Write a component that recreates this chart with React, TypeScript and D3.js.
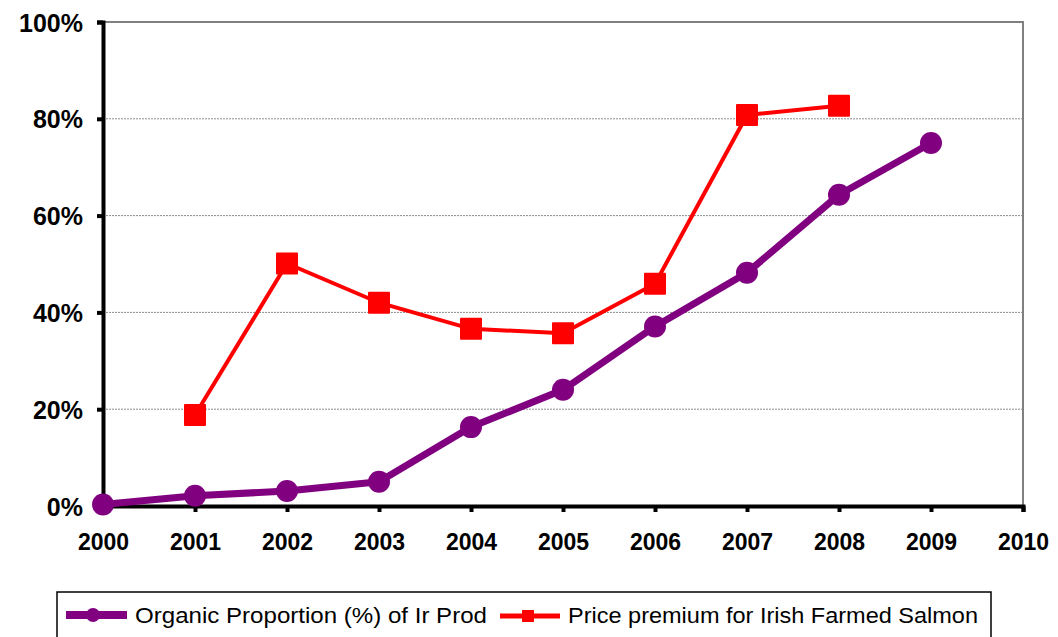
import { useEffect, useRef } from 'react';
import * as d3 from 'd3';

// years on the x axis
const years = [2000, 2001, 2002, 2003, 2004, 2005, 2006, 2007, 2008, 2009, 2010];

// Organic Proportion (%) of Ir Prod
const organicYears = [2000, 2001, 2002, 2003, 2004, 2005, 2006, 2007, 2008, 2009];
const organicValues = [0.3, 2.1, 3.1, 5.0, 16.3, 24.0, 37.1, 48.2, 64.3, 75.0];

// Price premium for Irish Farmed Salmon
const premiumYears = [2001, 2002, 2003, 2004, 2005, 2006, 2007, 2008];
const premiumValues = [18.8, 50.1, 42.0, 36.6, 35.7, 45.9, 80.8, 82.7];

const yTicks = [0, 20, 40, 60, 80, 100];

const seriesNames = ['Organic Proportion (%) of Ir Prod', 'Price premium for Irish Farmed Salmon'];

const PURPLE = '#800080';
const RED = '#FF0000';
const FONT = 'Arial, "Liberation Sans", sans-serif';

export default function App() {
  const svgRef = useRef<SVGSVGElement>(null);

  useEffect(() => {
    if (!svgRef.current) return;
    const svg = d3.select(svgRef.current);
    svg.selectAll('*').remove();

    const left = 103;
    const right = 1023;
    const top = 22;
    const bottom = 506;

    const x = d3.scaleLinear().domain([2000, 2010]).range([left, right]);
    const y = d3.scaleLinear().domain([0, 100]).range([bottom, top]);

    // gridlines
    svg
      .append('g')
      .selectAll('line')
      .data(yTicks.filter((t) => t > 0 && t < 100))
      .enter()
      .append('line')
      .attr('x1', left)
      .attr('x2', right)
      .attr('y1', (d) => y(d))
      .attr('y2', (d) => y(d))
      .style('stroke', '#8c8c8c')
      .style('stroke-width', 1)
      .style('stroke-dasharray', '2,1');

    // top + right border of plot area
    svg
      .append('path')
      .attr('d', `M${left},${y(100)}H${right}V${bottom}`)
      .style('fill', 'none')
      .style('stroke', '#808080')
      .style('stroke-width', 2);

    // y axis
    const yAxis = d3
      .axisLeft(y)
      .tickValues(yTicks)
      .tickSize(6)
      .tickPadding(14)
      .tickFormat((d) => `${d}%`);
    const yg = svg.append('g').attr('transform', `translate(${left},0)`).call(yAxis);
    yg.select('.domain').style('stroke', '#000').style('stroke-width', 4);
    yg.selectAll('.tick line').style('stroke', '#000').style('stroke-width', 4);
    yg.selectAll('.tick text')
      .style('font-family', FONT)
      .style('font-size', '25px')
      .style('font-weight', 'bold')
      .style('fill', '#000')
      .attr('dy', '0.36em');

    // x axis
    const xAxis = d3
      .axisBottom(x)
      .tickValues(years)
      .tickSize(6)
      .tickPadding(22)
      .tickFormat(d3.format('d'));
    const xg = svg.append('g').attr('transform', `translate(0,${bottom})`).call(xAxis);
    xg.select('.domain').style('stroke', '#000').style('stroke-width', 4);
    xg.selectAll('.tick line').style('stroke', '#000').style('stroke-width', 4);
    xg.selectAll('.tick text')
      .style('font-family', FONT)
      .style('font-size', '23px')
      .style('font-weight', 'bold')
      .style('fill', '#000');

    const line = d3
      .line<[number, number]>()
      .x((d) => x(d[0]))
      .y((d) => y(d[1]));

    // organic proportion series
    const organic: [number, number][] = organicYears.map((yr, i) => [yr, organicValues[i]]);
    svg
      .append('path')
      .attr('d', line(organic))
      .style('fill', 'none')
      .style('stroke', PURPLE)
      .style('stroke-width', 7)
      .style('stroke-linejoin', 'round');
    svg
      .append('g')
      .selectAll('circle')
      .data(organic)
      .enter()
      .append('circle')
      .attr('cx', (d) => x(d[0]))
      .attr('cy', (d) => y(d[1]))
      .attr('r', 11)
      .style('fill', PURPLE);

    // price premium series
    const premium: [number, number][] = premiumYears.map((yr, i) => [yr, premiumValues[i]]);
    svg
      .append('path')
      .attr('d', line(premium))
      .style('fill', 'none')
      .style('stroke', RED)
      .style('stroke-width', 4);
    svg
      .append('g')
      .selectAll('rect')
      .data(premium)
      .enter()
      .append('rect')
      .attr('x', (d) => x(d[0]) - 11)
      .attr('y', (d) => y(d[1]) - 11)
      .attr('width', 22)
      .attr('height', 22)
      .attr('rx', 1)
      .style('fill', RED);

    // legend
    const legend = svg.append('g');
    legend
      .append('rect')
      .attr('x', 57)
      .attr('y', 592)
      .attr('width', 934)
      .attr('height', 70)
      .style('fill', '#fff')
      .style('stroke', '#000')
      .style('stroke-width', 1.5);

    legend
      .append('line')
      .attr('x1', 66)
      .attr('x2', 127)
      .attr('y1', 615)
      .attr('y2', 615)
      .style('stroke', PURPLE)
      .style('stroke-width', 8);
    legend.append('circle').attr('cx', 93).attr('cy', 615).attr('r', 7).style('fill', PURPLE);
    legend
      .append('text')
      .attr('x', 135)
      .attr('y', 623)
      .attr('textLength', 352)
      .attr('lengthAdjust', 'spacingAndGlyphs')
      .style('font-family', FONT)
      .style('font-size', '22px')
      .style('fill', '#000')
      .text(seriesNames[0]);

    legend
      .append('line')
      .attr('x1', 500)
      .attr('x2', 560)
      .attr('y1', 616)
      .attr('y2', 616)
      .style('stroke', RED)
      .style('stroke-width', 5);
    legend
      .append('rect')
      .attr('x', 522)
      .attr('y', 610)
      .attr('width', 12)
      .attr('height', 12)
      .style('fill', RED);
    legend
      .append('text')
      .attr('x', 568)
      .attr('y', 623)
      .attr('textLength', 410)
      .attr('lengthAdjust', 'spacingAndGlyphs')
      .style('font-family', FONT)
      .style('font-size', '22px')
      .style('fill', '#000')
      .text(seriesNames[1]);
  }, []);

  return (
    <svg
      ref={svgRef}
      width={1058}
      height={637}
      style={{ position: 'absolute', left: 0, top: 0, background: '#fff' }}
    />
  );
}
